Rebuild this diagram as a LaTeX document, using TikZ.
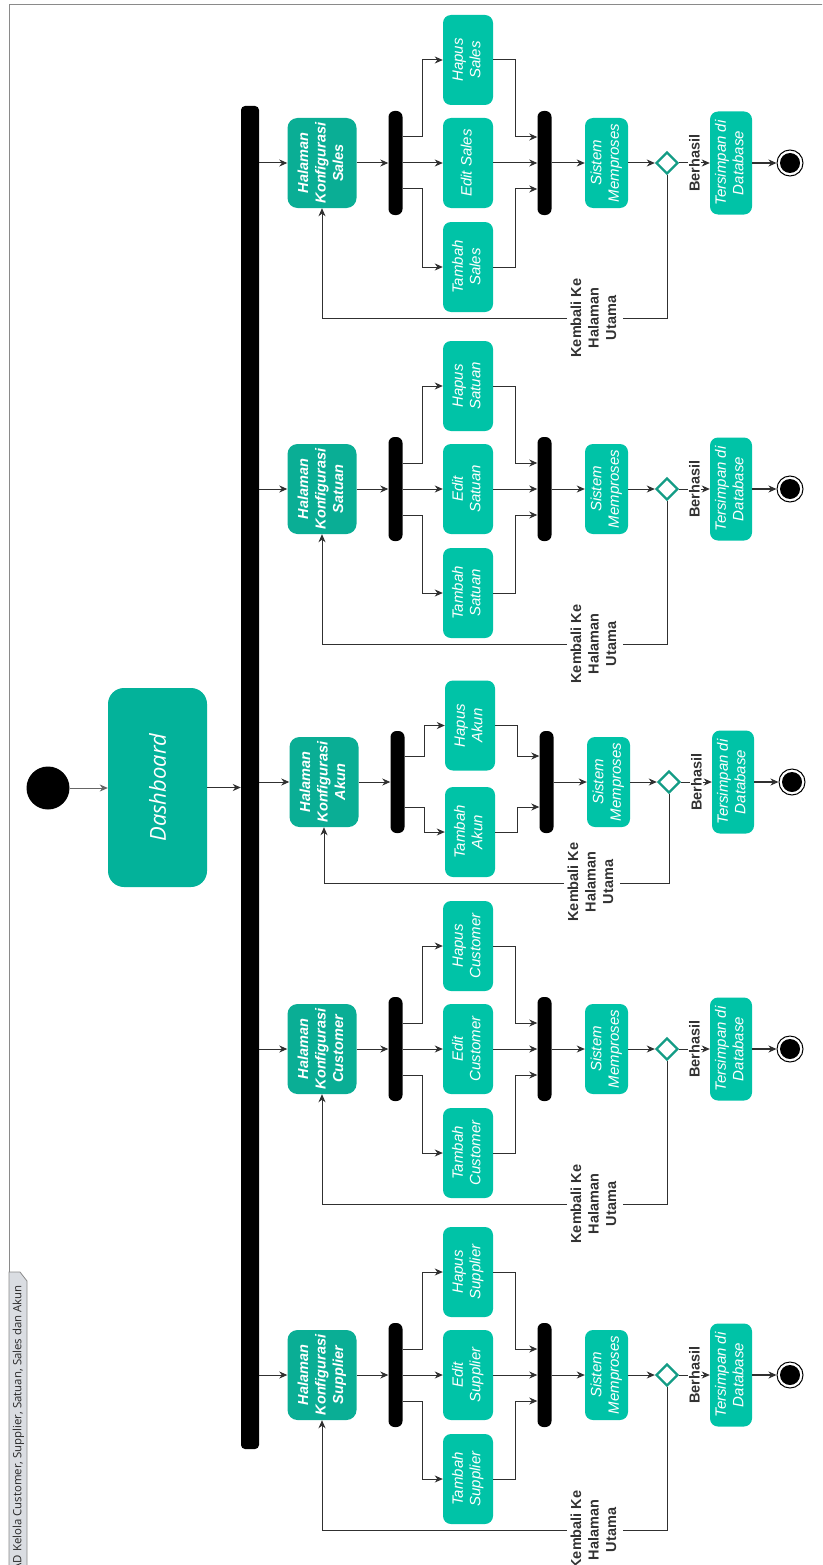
\documentclass[tikz,border=0pt]{standalone}
\usepackage{fontspec}
\setmainfont{Liberation Sans}
\newfontfamily\osans{Open Sans}
\usetikzlibrary{arrows.meta,shapes.geometric,calc}

\definecolor{tealdark}{HTML}{0AAE95}
\definecolor{teallight}{HTML}{00C3A7}
\definecolor{dashteal}{HTML}{03B29A}
\definecolor{diamondc}{HTML}{139C85}
\definecolor{linec}{HTML}{303030}
\definecolor{framec}{HTML}{8A8A8A}
\definecolor{tabfill}{HTML}{DADDE2}
\definecolor{labelc}{HTML}{333333}

% text set bottom-to-top, several centred lines
\newcommand{\vtext}[1]{\rotatebox{90}{\begin{tabular}{@{}c@{}}#1\end{tabular}}}

\tikzset{
  pagebox/.style={rectangle, rounded corners=10pt, fill=tealdark, text=white, inner sep=0pt,
    minimum width=69pt, minimum height=90pt, font=\fontsize{14.5}{17.5}\selectfont\bfseries\itshape},
  actbox/.style={rectangle, rounded corners=8pt, fill=teallight, text=white, inner sep=0pt,
    minimum width=50pt, minimum height=90pt, font=\fontsize{15}{17.5}\selectfont\itshape},
  procbox/.style={actbox, minimum width=43pt},
  savebox/.style={actbox, minimum width=42pt, minimum height=103pt},
  syncbar/.style={rectangle, rounded corners=6pt, fill=black, minimum width=14pt, minimum height=104pt, inner sep=0pt},
  decision/.style={diamond, aspect=1, draw=diamondc, line width=2.4pt, fill=white, minimum size=22pt, inner sep=0pt},
  finalnode/.style={circle, draw=black, fill=white, line width=1pt, minimum size=26pt, inner sep=0pt,
    path picture={\fill[black] (path picture bounding box.center) circle (10pt);}},
  flow/.style={draw=linec, line width=1pt, -{Stealth[length=8pt,width=7pt,inset=2.5pt]}},
  guard/.style={fill=white, text=labelc, inner sep=1.5pt, font=\fontsize{14.5}{17.5}\selectfont\bfseries},
}

% one configuration page with add / edit / delete actions
% #1 id, #2 y of the main flow, #3 object name, #4 edit label
\newcommand{\kbranch}[4]{%
  \node[pagebox] (#1h) at (322,#2) {\vtext{Halaman\\Konfigurasi\\#3}};
  \node[syncbar] (#1f) at (395.5,#2) {};
  \node[actbox] (#1p) at (468,#2-103) {\vtext{Hapus\\#3}};
  \node[actbox] (#1e) at (468,#2) {\vtext{#4}};
  \node[actbox] (#1t) at (468,#2+104) {\vtext{Tambah\\#3}};
  \node[syncbar] (#1j) at (544.5,#2) {};
  \node[procbox] (#1s) at (606.5,#2) {\vtext{Sistem\\Memproses}};
  \node[decision] (#1d) at (667,#2) {};
  \node[savebox] (#1db) at (731,#2) {\vtext{Tersimpan di\\Database}};
  \node[finalnode] (#1x) at (790,#2) {};
  \draw[flow] (bigbar.east |- #1h.west) -- (#1h.west);
  \draw[flow] (#1h.east) -- (#1h.east -| #1f.west);
  \draw[flow] ($(#1f.east)+(0,-26)$) -- ++(20,0) |- (#1p.west);
  \draw[flow] (#1f.east) -- (#1e.west);
  \draw[flow] ($(#1f.east)+(0,26)$) -- ++(20,0) |- (#1t.west);
  \draw[flow] (#1p.east) -- ++(22,0) |- ($(#1j.west)+(0,-26)$);
  \draw[flow] (#1e.east) -- (#1e.east -| #1j.west);
  \draw[flow] (#1t.east) -- ++(22,0) |- ($(#1j.west)+(0,26)$);
  \draw[flow] (#1j.east |- #1s.west) -- (#1s.west);
  \draw[flow] (#1s.east) -- (#1d.west);
  \draw[flow] (#1d.east) -- node[guard]{\rotatebox{90}{Berhasil}} (#1db.west);
  \draw[flow, line width=1.5pt] (#1db.east) -- (#1x.west);
  \draw[flow] (#1d.south) |- ($(#1h.south)+(0,110)$) -- (#1h.south);
  \node[guard] (#1k) at (595,#2+155) {\vtext{Kembali Ke\\Halaman\\Utama}};
}

\begin{document}
\begin{tikzpicture}[x=1pt, y=-1pt]
\useasboundingbox (0,0) rectangle (822,1565);
\clip (0,0) rectangle (822,1565);

% diagram frame and its name tab
\draw[framec, line width=1pt] (9,1575) -- (9,5) -- (830,5);
\filldraw[fill=tabfill, draw=framec, line width=0.8pt]
  (9,1575) -- (9,1272) -- (20,1272) -- (27,1281) -- (27,1575) -- cycle;
\node[rotate=90, anchor=east, inner sep=0pt, text=black!85, font=\osans\fontsize{11.4}{13}\selectfont] (title)
  at (18.5,1285) {AD Kelola Customer, Supplier, Satuan, Sales dan Akun};

% start, dashboard and the main fork
\node[circle, fill=black, minimum size=43pt, inner sep=0pt] (start) at (48,788) {};
\node[rectangle, rounded corners=16pt, fill=dashteal, text=white, minimum width=99pt, minimum height=199pt,
  inner sep=0pt, font=\osans\itshape\fontsize{22}{26}\selectfont] (dash) at (157.5,787.5) {\rotatebox{90}{Dashboard}};
\node[rectangle, rounded corners=4pt, fill=black, minimum width=18pt, minimum height=1343pt, inner sep=0pt]
  (bigbar) at (250,777.5) {};
\draw[flow, draw=black!60] (start.east) -- (start.east -| dash.west);
\draw[flow] (dash.east) -- (dash.east -| bigbar.west);

% pages with three actions
\kbranch{sl}{163}{Sales}{Edit Sales}
\kbranch{st}{489}{Satuan}{Edit\\Satuan}
\kbranch{cu}{1049}{Customer}{Edit\\Customer}
\kbranch{su}{1375}{Supplier}{Edit\\Supplier}

% account page: add / delete only
\node[pagebox] (akh) at (324,782) {\vtext{Halaman\\Konfigurasi\\Akun}};
\node[syncbar, minimum height=102pt] (akf) at (397.5,782) {};
\node[actbox] (akp) at (470,725.5) {\vtext{Hapus\\Akun}};
\node[actbox] (akt) at (470,832) {\vtext{Tambah\\Akun}};
\node[syncbar, minimum height=102pt] (akj) at (546.5,782) {};
\node[procbox] (aks) at (608.5,782) {\vtext{Sistem\\Memproses}};
\node[decision] (akd) at (669,782) {};
\node[savebox] (akdb) at (733,782) {\vtext{Tersimpan di\\Database}};
\node[finalnode] (akx) at (792,782) {};
\draw[flow] (bigbar.east |- akh.west) -- (akh.west);
\draw[flow] (akh.east) -- (akh.east -| akf.west);
\draw[flow] ($(akf.east)+(0,-26)$) -- ++(20,0) |- (akp.west);
\draw[flow] ($(akf.east)+(0,25)$) -- ++(20,0) |- (akt.west);
\draw[flow] (akp.east) -- ++(22,0) |- ($(akj.west)+(0,-26)$);
\draw[flow] (akt.east) -- ++(22,0) |- ($(akj.west)+(0,25)$);
\draw[flow] (akj.east |- aks.west) -- (aks.west);
\draw[flow] (aks.east) -- (akd.west);
\draw[flow] (akd.east) -- node[guard]{\rotatebox{90}{Berhasil}} (akdb.west);
\draw[flow, line width=1.5pt] (akdb.east) -- (akx.west);
\draw[flow] (akd.south) |- ($(akh.south)+(0,56)$) -- (akh.south);
\node[guard] (akk) at (592,882) {\vtext{Kembali Ke\\Halaman\\Utama}};
\end{tikzpicture}
\end{document}
